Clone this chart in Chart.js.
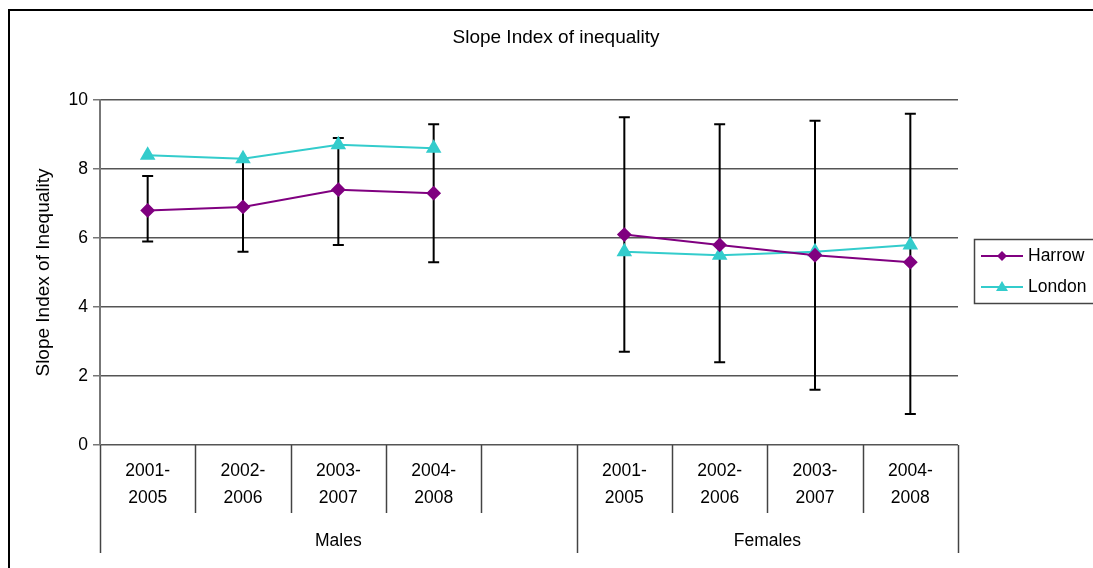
<!DOCTYPE html>
<html>
<head>
<meta charset="utf-8">
<script src="https://cdn.jsdelivr.net/npm/chart.js@4/dist/chart.umd.min.js"></script>
<style>
  html, body { margin: 0; padding: 0; background: #fff; }
  #wrap { width: 1093px; height: 568px; position: relative; }
</style>
</head>
<body>
<div id="wrap"><canvas id="c"></canvas></div>
<script>
// Periods shown in each sex group; an empty slot separates the groups
const periods = ['2001-2005', '2002-2006', '2003-2007', '2004-2008'];
const groups = ['Males', 'Females'];
const categories = [...periods, '', ...periods];

// Slope index of inequality
const harrow = [6.8, 6.9, 7.4, 7.3, null, 6.1, 5.8, 5.5, 5.3];
const london = [8.4, 8.3, 8.7, 8.6, null, 5.6, 5.5, 5.6, 5.8];

// 95% confidence limits for Harrow
const harrowLow  = [5.9, 5.6, 5.8, 5.3, null, 2.7, 2.4, 1.6, 0.9];
const harrowHigh = [7.8, 8.2, 8.9, 9.3, null, 9.5, 9.3, 9.4, 9.6];

const yTicks = [0, 2, 4, 6, 8, 10];

const FONT = '"Liberation Sans", Arial, sans-serif';
const LABEL_SIZE = 17.5;
const TITLE_SIZE = 19;
const HARROW_COL = '#800080';
const LONDON_COL = '#33CCCC';

// Error bars drawn beneath the series lines
const errorBars = {
  id: 'errorBars',
  beforeDatasetsDraw(chart) {
    const { ctx, scales: { x, y } } = chart;
    ctx.save();
    ctx.strokeStyle = '#000';
    ctx.lineWidth = 2;
    for (let i = 0; i < categories.length; i++) {
      if (harrowLow[i] == null) continue;
      const px = x.getPixelForValue(i);
      const y0 = y.getPixelForValue(harrowLow[i]);
      const y1 = y.getPixelForValue(harrowHigh[i]);
      ctx.beginPath();
      ctx.moveTo(px, y0); ctx.lineTo(px, y1);
      ctx.moveTo(px - 5.5, y0); ctx.lineTo(px + 5.5, y0);
      ctx.moveTo(px - 5.5, y1); ctx.lineTo(px + 5.5, y1);
      ctx.stroke();
    }
    ctx.restore();
  }
};

// Two-level category axis, title, legend and outer frame
const decorations = {
  id: 'decorations',
  afterDraw(chart) {
    const { ctx, chartArea: a, scales: { x } } = chart;
    ctx.save();

    // outer frame
    ctx.strokeStyle = '#000';
    ctx.lineWidth = 2;
    ctx.strokeRect(9, 10, 1200, 700);

    // title
    ctx.fillStyle = '#000';
    ctx.font = TITLE_SIZE + 'px ' + FONT;
    ctx.textAlign = 'center';
    ctx.textBaseline = 'middle';
    ctx.fillText('Slope Index of inequality', 556, 38);

    // category boundaries
    const n = categories.length;
    const bounds = [a.left];
    for (let i = 0; i < n - 1; i++) {
      bounds.push((x.getPixelForValue(i) + x.getPixelForValue(i + 1)) / 2);
    }
    bounds.push(a.right);
    const groupEdges = [0, 5, 9];
    ctx.strokeStyle = '#444';
    ctx.lineWidth = 1.5;
    bounds.forEach((bx, i) => {
      const long = groupEdges.includes(i);
      ctx.beginPath();
      ctx.moveTo(Math.round(bx) + 0.5, a.bottom);
      ctx.lineTo(Math.round(bx) + 0.5, long ? a.bottom + 108 : a.bottom + 68);
      ctx.stroke();
    });

    // period labels
    ctx.fillStyle = '#000';
    ctx.font = LABEL_SIZE + 'px ' + FONT;
    categories.forEach((c, i) => {
      if (!c) return;
      const [p1, p2] = c.split('-');
      const px = x.getPixelForValue(i);
      ctx.fillText(p1 + '-', px, a.bottom + 26);
      ctx.fillText(p2, px, a.bottom + 53);
    });

    // group labels
    ctx.fillText(groups[0], (bounds[0] + bounds[5]) / 2, a.bottom + 96);
    ctx.fillText(groups[1], (bounds[5] + bounds[9]) / 2, a.bottom + 96);

    // legend
    ctx.strokeStyle = '#444';
    ctx.lineWidth = 1.5;
    ctx.strokeRect(974.5, 239.5, 200, 64);
    const items = [
      { label: 'Harrow', color: HARROW_COL, shape: 'diamond', y: 256 },
      { label: 'London', color: LONDON_COL, shape: 'triangle', y: 287 }
    ];
    items.forEach(it => {
      ctx.strokeStyle = it.color;
      ctx.lineWidth = 2;
      ctx.beginPath();
      ctx.moveTo(981, it.y); ctx.lineTo(1023, it.y);
      ctx.stroke();
      ctx.fillStyle = it.color;
      ctx.beginPath();
      const cx = 1002, cy = it.y;
      if (it.shape === 'diamond') {
        ctx.moveTo(cx, cy - 5); ctx.lineTo(cx + 5, cy); ctx.lineTo(cx, cy + 5); ctx.lineTo(cx - 5, cy);
      } else {
        ctx.moveTo(cx, cy - 6); ctx.lineTo(cx + 6, cy + 4); ctx.lineTo(cx - 6, cy + 4);
      }
      ctx.closePath();
      ctx.fill();
      ctx.fillStyle = '#000';
      ctx.font = LABEL_SIZE + 'px ' + FONT;
      ctx.textAlign = 'left';
      ctx.fillText(it.label, 1028, it.y);
    });

    ctx.restore();
  }
};

new Chart(document.getElementById('c'), {
  type: 'line',
  data: {
    labels: categories,
    datasets: [
      {
        label: 'Harrow',
        data: harrow,
        borderColor: HARROW_COL,
        backgroundColor: HARROW_COL,
        borderWidth: 2,
        pointStyle: 'rectRot',
        pointRadius: 6,
        pointHoverRadius: 6,
        spanGaps: false,
        tension: 0
      },
      {
        label: 'London',
        data: london,
        borderColor: LONDON_COL,
        backgroundColor: LONDON_COL,
        borderWidth: 2,
        pointStyle: 'triangle',
        pointRadius: 7,
        pointHoverRadius: 7,
        spanGaps: false,
        tension: 0
      }
    ]
  },
  options: {
    responsive: true,
    maintainAspectRatio: false,
    animation: false,
    events: [],
    layout: { padding: { left: 22, top: 100, right: 135, bottom: 123 } },
    plugins: {
      legend: { display: false },
      title: { display: false },
      tooltip: { enabled: false }
    },
    scales: {
      x: {
        type: 'category',
        offset: true,
        display: false,
        grid: { display: false }
      },
      y: {
        min: 0,
        max: 10,
        afterBuildTicks: s => { s.ticks = yTicks.map(v => ({ value: v })); },
        afterFit: s => { s.width = 78; },
        border: { display: true, color: '#777', width: 2 },
        grid: {
          color: '#555',
          lineWidth: 1.5,
          drawTicks: true,
          tickLength: 7,
          tickColor: '#777'
        },
        ticks: {
          color: '#000',
          font: { family: FONT, size: LABEL_SIZE },
          padding: 5
        },
        title: {
          display: true,
          text: 'Slope Index of Inequality',
          color: '#000',
          font: { family: FONT, size: TITLE_SIZE },
          padding: { top: 10, bottom: 12 }
        }
      }
    }
  },
  plugins: [errorBars, decorations]
});
</script>
</body>
</html>
